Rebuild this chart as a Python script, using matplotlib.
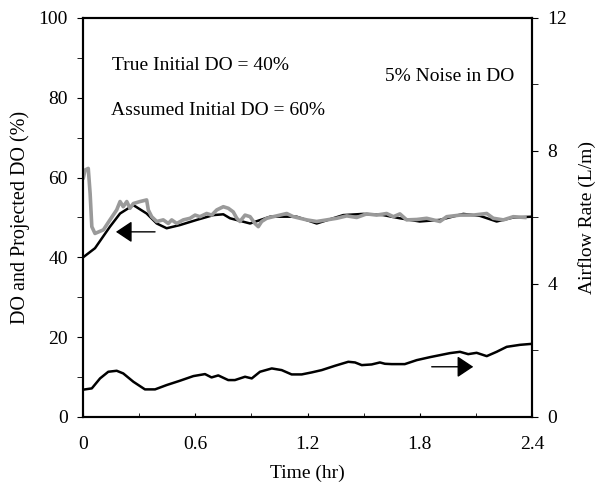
import numpy as np
import matplotlib.pyplot as plt

plt.rcParams['font.family'] = ['Liberation Serif', 'DejaVu Serif']

# projected DO (black)
t_do = [0, 0.064, 0.144, 0.198, 0.269, 0.34, 0.394, 0.447, 0.518, 0.608, 0.697, 0.75, 0.786,
        0.893, 1.0, 1.142, 1.249, 1.391, 1.498, 1.605, 1.694, 1.80, 1.908, 2.033, 2.122,
        2.211, 2.3, 2.4]
do_proj = [40, 42.3, 47.7, 51.0, 53.1, 51.0, 48.5, 47.3, 48.1, 49.4, 50.6, 50.8, 49.8,
           48.5, 50.2, 50.2, 48.5, 50.6, 50.9, 50.6, 49.8, 49.0, 49.4, 50.9, 50.4,
           49.0, 50.0, 50.2]

# measured DO with 5% noise (gray)
t_meas = [0.002, 0.011, 0.028, 0.038, 0.047, 0.064, 0.109, 0.144, 0.18, 0.198, 0.215, 0.234,
          0.251, 0.269, 0.305, 0.34, 0.349, 0.367, 0.394, 0.429, 0.456, 0.474, 0.501, 0.536,
          0.572, 0.599, 0.625, 0.661, 0.688, 0.715, 0.75, 0.777, 0.803, 0.822, 0.839, 0.866,
          0.893, 0.919, 0.937, 0.955, 0.982, 1.017, 1.053, 1.089, 1.124, 1.16, 1.196, 1.249,
          1.303, 1.356, 1.41, 1.463, 1.516, 1.57, 1.623, 1.659, 1.694, 1.73, 1.784, 1.837,
          1.908, 1.944, 2.015, 2.086, 2.158, 2.193, 2.247, 2.3, 2.362]
do_meas = [60.0, 61.9, 62.3, 56.0, 47.7, 46.0, 46.9, 49.4, 51.9, 54.0, 52.7, 54.0,
           52.3, 53.5, 54.0, 54.4, 51.9, 50.2, 49.0, 49.4, 48.5, 49.4, 48.5, 49.4,
           49.8, 50.6, 50.2, 51.0, 50.6, 51.9, 52.7, 52.3, 51.4, 49.8, 49.0, 50.6,
           50.2, 48.5, 47.7, 49.0, 49.8, 50.2, 50.6, 51.0, 50.2, 49.8, 49.4, 49.0,
           49.4, 49.8, 50.4, 50.0, 50.9, 50.6, 51.0, 50.2, 50.9, 49.4, 49.5, 49.8,
           49.0, 50.2, 50.6, 50.6, 51.0, 49.8, 49.4, 50.2, 50.0]

# airflow rate (L/m)
t_air = [0.011, 0.047, 0.091, 0.135, 0.18, 0.215, 0.269, 0.331, 0.385, 0.447, 0.518, 0.59,
         0.652, 0.687, 0.723, 0.776, 0.812, 0.866, 0.902, 0.946, 1.009, 1.062, 1.115, 1.169,
         1.222, 1.276, 1.347, 1.418, 1.454, 1.49, 1.543, 1.587, 1.614, 1.65, 1.72, 1.784,
         1.855, 1.908, 1.961, 2.015, 2.059, 2.104, 2.158, 2.211, 2.265, 2.336, 2.4]
airflow = [0.83, 0.86, 1.16, 1.36, 1.39, 1.31, 1.06, 0.83, 0.83, 0.96, 1.09, 1.23,
           1.29, 1.19, 1.25, 1.11, 1.11, 1.21, 1.16, 1.36, 1.46, 1.41, 1.28, 1.28,
           1.34, 1.41, 1.54, 1.66, 1.64, 1.56, 1.58, 1.64, 1.60, 1.59, 1.59, 1.71,
           1.80, 1.86, 1.92, 1.96, 1.89, 1.93, 1.83, 1.96, 2.11, 2.17, 2.20]

fig = plt.figure(figsize=(5.96, 4.93), dpi=100)
ax = fig.add_axes([0.1393, 0.1542, 0.7533, 0.8093])
ax2 = ax.twinx()

ax.plot(t_do, do_proj, color='black', lw=1.8, zorder=3)
ax.plot(t_meas, do_meas, color='#9a9a9a', lw=2.6, zorder=4)
ax2.plot(t_air, airflow, color='black', lw=1.8)

ax.set_xlim(0, 2.4)
ax.set_ylim(0, 100)
ax2.set_ylim(0, 12)
ax.set_xticks([0, 0.6, 1.2, 1.8, 2.4])
ax.set_xticklabels(['0', '0.6', '1.2', '1.8', '2.4'])
ax.set_xticks(np.arange(0.3, 2.4, 0.6), minor=True)
ax.set_yticks([0, 20, 40, 60, 80, 100])
ax.set_yticks(np.arange(10, 100, 20), minor=True)
ax2.set_yticks([0, 4, 8, 12])
ax2.set_yticks([2, 6, 10], minor=True)

ax.tick_params(axis='y', which='both', direction='out', length=4, labelsize=14, pad=7)
ax.tick_params(axis='x', which='both', direction='in', length=3, labelsize=14, pad=14)
ax2.tick_params(axis='y', which='both', direction='out', length=4, labelsize=14, pad=7)

for sp in ax.spines.values():
    sp.set_linewidth(1.5)
for sp in ax2.spines.values():
    sp.set_linewidth(1.5)

ax.set_xlabel('Time (hr)', fontsize=14, labelpad=8)
ax.set_ylabel('DO and Projected DO (%)', fontsize=14.5, labelpad=6)
ax2.set_ylabel('Airflow Rate (L/m)', fontsize=14, labelpad=8)

ax.text(0.064, 0.882, 'True Initial DO = 40%', transform=ax.transAxes, fontsize=14, va='center')
ax.text(0.062, 0.769, 'Assumed Initial DO = 60%', transform=ax.transAxes, fontsize=14, va='center')
ax.text(0.673, 0.853, '5% Noise in DO', transform=ax.transAxes, fontsize=14, va='center')

# direction arrows
head = '-|>,head_length=0.45,head_width=0.3'
ax.annotate('', xy=(0.176, 46.4), xytext=(0.385, 46.4),
            arrowprops=dict(arrowstyle=head, color='black', lw=1.0, mutation_scale=22,
                            shrinkA=0, shrinkB=0))
ax2.annotate('', xy=(2.086, 1.51), xytext=(1.864, 1.51),
             arrowprops=dict(arrowstyle=head, color='black', lw=1.0, mutation_scale=22,
                             shrinkA=0, shrinkB=0))

fig.savefig('out.png', dpi=100)
